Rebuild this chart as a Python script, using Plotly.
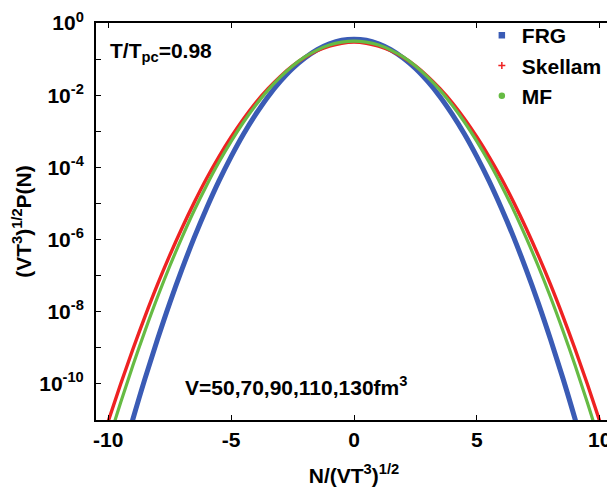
import plotly.graph_objects as go

# N/(VT^3)^(1/2) grid
x_vals = [-10.5, -10.0, -9.5, -9.0, -8.5, -8.0, -7.5, -7.0, -6.5, -6.0, -5.5, -5.0, -4.5, -4.0,
          -3.5, -3.0, -2.5, -2.0, -1.5, -1.0, -0.5, 0.0, 0.5, 1.0, 1.5, 2.0, 2.5, 3.0, 3.5,
          4.0, 4.5, 5.0, 5.5, 6.0, 6.5, 7.0, 7.5, 8.0, 8.5, 9.0, 9.5, 10.0, 10.5]

# log10 of (VT^3)^(1/2) P(N)
frg_log = [-14.78, -13.45, -12.18, -10.98, -9.84, -8.77, -7.76, -6.82, -5.94, -5.13, -4.38, -3.70,
           -3.08, -2.53, -2.04, -1.62, -1.26, -0.97, -0.74, -0.58, -0.48, -0.45, -0.48, -0.58,
           -0.74, -0.97, -1.26, -1.62, -2.04, -2.53, -3.08, -3.70, -4.38, -5.13, -5.94, -6.82,
           -7.76, -8.77, -9.84, -10.98, -12.18, -13.45, -14.78]
skellam_log = [-12.11, -11.03, -10.01, -9.04, -8.12, -7.25, -6.44, -5.68, -4.97, -4.31, -3.71, -3.16,
               -2.66, -2.21, -1.82, -1.48, -1.19, -0.95, -0.77, -0.64, -0.56, -0.53, -0.56, -0.64,
               -0.77, -0.95, -1.19, -1.48, -1.82, -2.21, -2.66, -3.16, -3.71, -4.31, -4.97, -5.68,
               -6.44, -7.25, -8.12, -9.04, -10.01, -11.03, -12.11]
mf_log = [-12.74, -11.60, -10.52, -9.49, -8.52, -7.60, -6.74, -5.94, -5.19, -4.50, -3.86, -3.28,
          -2.75, -2.28, -1.86, -1.50, -1.19, -0.94, -0.75, -0.61, -0.53, -0.50, -0.53, -0.61,
          -0.75, -0.94, -1.19, -1.50, -1.86, -2.28, -2.75, -3.28, -3.86, -4.50, -5.19, -5.94,
          -6.74, -7.60, -8.52, -9.49, -10.52, -11.60, -12.74]

series_names = ["FRG", "Skellam", "MF"]
series_colors = ["#3a5bb5", "#ee2222", "#66bb44"]

x_ticks = [-10, -5, 0, 5, 10]
y_tick_exp = [0, -1, -2, -3, -4, -5, -6, -7, -8, -9, -10]
y_tick_text = ["<b>10<sup>0</sup></b>", "", "<b>10<sup>-2</sup></b>", "", "<b>10<sup>-4</sup></b>", "",
               "<b>10<sup>-6</sup></b>", "", "<b>10<sup>-8</sup></b>", "", "<b>10<sup>-10</sup></b>"]

FONT = "Liberation Sans"
FS = 21

fig = go.Figure()
widths = [5, 3.4, 3.2]
for name, logs, col, w in zip(series_names, [frg_log, skellam_log, mf_log], series_colors, widths):
    fig.add_trace(go.Scatter(
        x=x_vals, y=[10 ** v for v in logs], mode="lines",
        line=dict(color=col, width=w, shape="spline"),
        showlegend=False, hoverinfo="skip"))

# legend entries (point styles)
legend_symbols = ["square", "cross-thin", "circle"]
for name, col, sym in zip(series_names, series_colors, legend_symbols):
    fig.add_trace(go.Scatter(
        x=[None], y=[None], mode="markers", name="<b>" + name + "</b>",
        marker=dict(color=col, symbol=sym, size=5,
                    line=dict(color=col, width=1.5))))

# page body adds an 8px offset; figure sized to fit the 615x487 window
fig.update_layout(
    width=607, height=479,
    margin=dict(l=88, r=3, t=15, b=67),
    paper_bgcolor="white", plot_bgcolor="white",
    font=dict(family=FONT, size=FS, color="black"),
    showlegend=True,
    legend=dict(x=0.99, y=1.02, xanchor="right", yanchor="top",
                bgcolor="rgba(0,0,0,0)", font=dict(size=FS, family=FONT),
                itemwidth=30),
    xaxis=dict(
        range=[-10.5, 10.5], tickvals=x_ticks, ticktext=["<b>%d</b>" % t for t in x_ticks],
        ticks="inside", ticklen=5, tickwidth=1, tickcolor="black",
        showline=True, linecolor="black", linewidth=2, mirror="ticks",
        showgrid=False, zeroline=False, automargin=False,
        tickfont=dict(size=FS, family=FONT),
        title=dict(text="<b>N/(VT<sup>3</sup>)<sup>1/2</sup></b>", standoff=27,
                   font=dict(size=FS, family=FONT)),
    ),
    yaxis=dict(
        type="log", range=[-11, 0],
        tickvals=[10 ** e for e in y_tick_exp], ticktext=y_tick_text,
        ticks="inside", ticklen=5, tickwidth=1, tickcolor="black",
        showline=True, linecolor="black", linewidth=2, mirror="ticks",
        showgrid=False, zeroline=False, automargin=False, ticklabelstandoff=6,
        tickfont=dict(size=FS, family=FONT),
        title=dict(text="<b>(VT<sup>3</sup>)<sup>1/2</sup>P(N)</b>", standoff=2,
                   font=dict(size=FS, family=FONT)),
    ),
    annotations=[
        dict(text="<b>T/T<sub>pc</sub>=0.98</b>", xref="paper", yref="paper",
             x=0.023, y=0.927, xanchor="left", yanchor="middle", showarrow=False,
             font=dict(size=FS, family=FONT)),
        dict(text="<b>V=50,70,90,110,130fm<sup>3</sup></b>", xref="paper", yref="paper",
             x=0.169, y=0.085, xanchor="left", yanchor="middle", showarrow=False,
             font=dict(size=FS, family=FONT)),
    ],
)

fig.write_html("out.html")
